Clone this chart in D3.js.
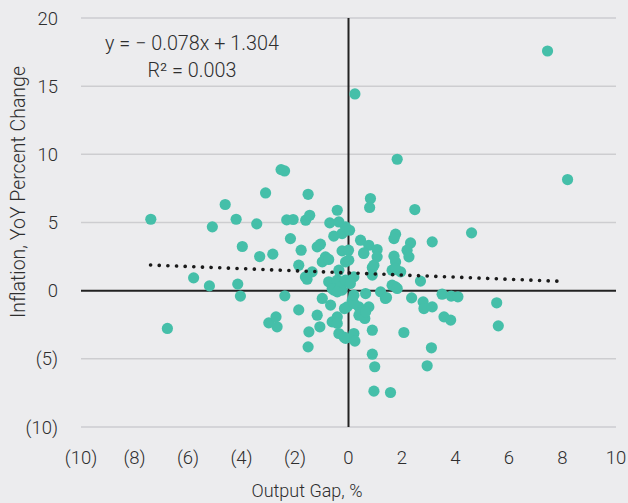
<!DOCTYPE html>
<html>
<head>
<meta charset="utf-8">
<script src="https://cdn.jsdelivr.net/npm/d3@7"></script>
<style>
  body { margin: 0; background: #ececee; }
  text { font-family: Roboto, "Liberation Sans", sans-serif; font-weight: 300; fill: #2e2e2e; }
</style>
</head>
<body>
<div id="chart"></div>
<script>
// output gap (%) and inflation (YoY %) for each observation
const outputGap = [-7.39,-6.77,-5.79,-5.20,-5.09,-4.61,-4.20,-3.97,-4.14,-4.04,-3.43,-3.10,-3.32,-2.83,-2.52,-2.39,-2.31,-2.07,-2.17,-2.38,
  -2.98,-2.71,-2.67,-1.51,-1.60,-1.45,-0.42,-0.70,-0.36,-0.55,-0.24,-0.11,-1.77,-1.17,-1.05,-0.86,-0.98,-0.74,-0.24,-0.11,
  -1.86,-1.36,-1.61,0.82,0.79,2.48,0.04,1.76,1.70,3.13,0.45,0.76,1.07,0.57,2.32,2.19,2.26,1.70,1.76,0.00,
  0.01,0.89,1.63,1.95,-1.86,-1.48,-1.51,-1.17,-1.07,-0.98,-0.67,-0.61,-0.42,-0.36,-0.11,-0.15,-1.55,-0.74,-0.42,-0.24,
  -0.55,0.89,2.07,0.20,0.24,0.89,0.98,2.94,3.10,0.95,1.57,2.36,2.79,2.82,3.13,1.76,1.38,1.20,0.64,0.39,
  0.76,0.39,0.61,0.14,-0.05,2.69,4.60,3.50,3.84,4.09,3.57,3.82,5.54,5.60,1.76,1.63,1.82,1.42,0.20,-0.42,
  -0.61,-0.30,-0.42,-0.11,0.20,0.07,0.20,0.64,0.95,0.89,-0.36,1.07,7.44,0.24,1.82,8.19,-0.17,0.57];
const inflation = [5.24,-2.77,0.94,0.35,4.68,6.32,5.24,3.24,0.48,-0.40,4.90,7.17,2.50,2.68,8.88,8.78,5.19,5.22,3.82,-0.38,
  -2.36,-1.92,-2.65,7.07,5.17,5.53,5.90,4.97,5.04,4.00,4.19,4.68,2.97,3.21,3.41,2.48,2.11,2.29,2.92,2.11,
  1.87,1.38,1.01,6.76,6.10,5.95,4.43,4.14,3.82,3.58,3.70,3.33,3.02,2.77,3.50,2.97,2.48,2.53,2.11,2.97,
  2.24,1.70,1.50,1.38,-1.41,-3.02,-4.12,-1.80,-2.65,-0.57,-1.06,-2.29,-1.92,-3.14,-3.50,-1.31,0.84,0.65,0.77,0.04,
  0.04,-2.90,-3.07,-3.14,-3.70,-4.66,-5.58,-5.51,-4.19,-7.37,-7.47,-0.53,-0.82,-1.31,-1.19,0.28,-0.57,-0.09,-0.21,-1.19,
  -1.19,-1.80,-2.04,-0.70,-1.19,0.70,4.24,-0.26,-0.40,-0.45,-1.92,-2.16,-0.89,-2.58,1.63,0.40,0.16,-0.50,-0.94,-2.40,
  0.16,0.28,-0.09,0.77,1.01,0.53,-0.33,-1.55,1.87,1.14,1.50,2.48,17.58,14.43,9.64,8.15,-3.40,2.73];

// linear fit shown on the chart
const slope = -0.078, intercept = 1.304;
const fitRange = [-7.4, 8.0];
const equationLines = ["y = \u2212 0.078x + 1.304", "R\u00b2 = 0.003"];

const xTicks = [-10, -8, -6, -4, -2, 0, 2, 4, 6, 8, 10];
const yTicks = [-10, -5, 0, 5, 10, 15, 20];

const W = 628, H = 503;
const margin = {top: 18, right: 12, bottom: 76, left: 81};

const svg = d3.select("#chart").append("svg")
    .attr("width", W)
    .attr("height", H);

svg.append("rect").attr("width", W).attr("height", H).attr("fill", "#ececee");

const x = d3.scaleLinear().domain([-10, 10]).range([margin.left, W - margin.right]);
const y = d3.scaleLinear().domain([-10, 20]).range([H - margin.bottom, margin.top]);

const fmt = v => v < 0 ? `(${Math.abs(v)})` : `${v}`;

// horizontal grid lines
svg.append("g")
  .selectAll("line")
  .data(yTicks.filter(d => d !== 0))
  .join("line")
    .attr("x1", x(-10)).attr("x2", x(10))
    .attr("y1", d => y(d)).attr("y2", d => y(d))
    .attr("stroke", "#cdcdd0")
    .attr("stroke-width", 1.5);

// y tick labels
svg.append("g")
  .selectAll("text")
  .data(yTicks)
  .join("text")
    .attr("x", 58)
    .attr("y", d => y(d))
    .attr("dy", "0.36em")
    .attr("text-anchor", "end")
    .attr("font-size", 18.5)
    .text(fmt);

// x tick labels
svg.append("g")
  .selectAll("text")
  .data(xTicks)
  .join("text")
    .attr("x", d => x(d))
    .attr("y", 464)
    .attr("text-anchor", "middle")
    .attr("font-size", 18.5)
    .text(fmt);

// zero lines
svg.append("line")
    .attr("x1", x(-10)).attr("x2", x(10))
    .attr("y1", y(0)).attr("y2", y(0))
    .attr("stroke", "#222").attr("stroke-width", 2);
svg.append("line")
    .attr("x1", x(0)).attr("x2", x(0))
    .attr("y1", y(20)).attr("y2", y(-10))
    .attr("stroke", "#222").attr("stroke-width", 2);

// points
const pts = outputGap.map((g, i) => ({g: g, inf: inflation[i]}));
svg.append("g")
  .selectAll("circle")
  .data(pts)
  .join("circle")
    .attr("cx", d => x(d.g))
    .attr("cy", d => y(d.inf))
    .attr("r", 5.6)
    .attr("fill", "#45bfa9");

// trend line
svg.append("line")
    .attr("x1", x(fitRange[0])).attr("x2", x(fitRange[1]))
    .attr("y1", y(slope * fitRange[0] + intercept))
    .attr("y2", y(slope * fitRange[1] + intercept))
    .attr("stroke", "#1a1a1a")
    .attr("stroke-width", 3.6)
    .attr("stroke-linecap", "round")
    .attr("stroke-dasharray", "0.1 8.55");

// equation
svg.append("g")
  .selectAll("text")
  .data(equationLines)
  .join("text")
    .attr("x", 192)
    .attr("y", (d, i) => 50 + i * 27)
    .attr("text-anchor", "middle")
    .attr("font-size", 19.8)
    .text(d => d);

// axis titles
svg.append("text")
    .attr("x", 307)
    .attr("y", 497)
    .attr("text-anchor", "middle")
    .attr("font-size", 18)
    .text("Output Gap, %");

svg.append("text")
    .attr("transform", "translate(25, 192) rotate(-90)")
    .attr("text-anchor", "middle")
    .attr("font-size", 19.5)
    .text("Inflation, YoY Percent Change");
</script>
</body>
</html>
